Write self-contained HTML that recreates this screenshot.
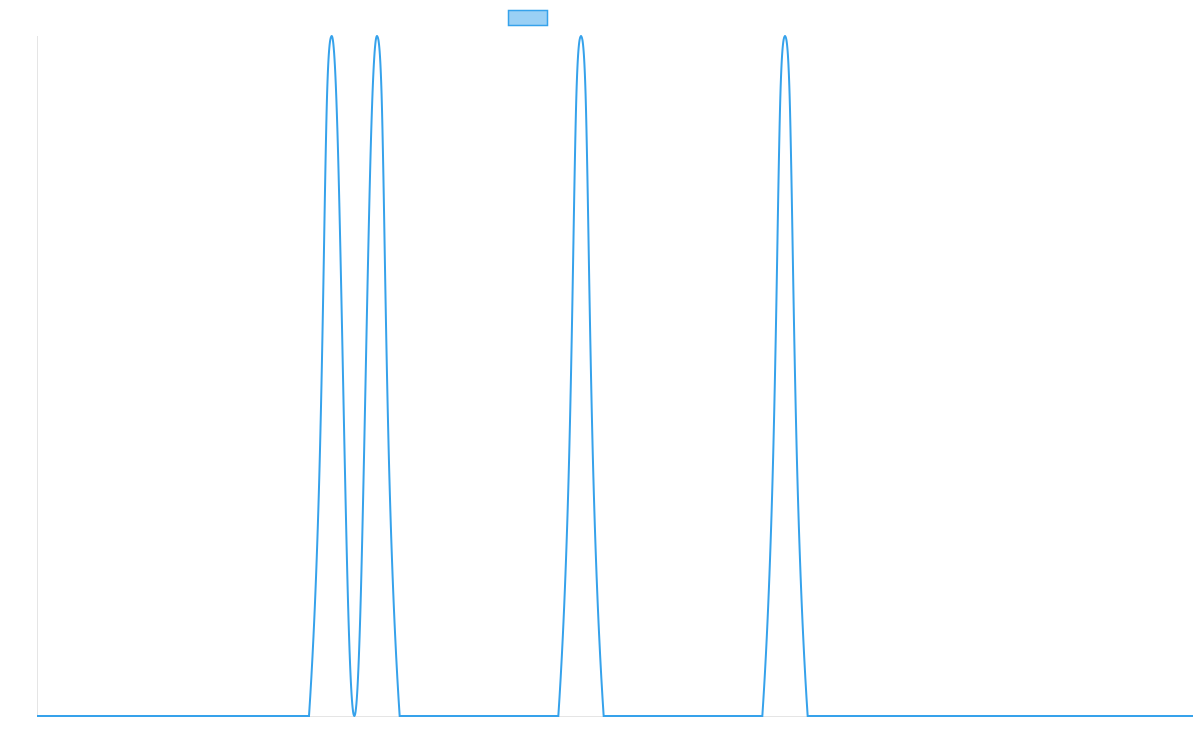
<!DOCTYPE html>
<html><head><style>html,body{margin:0;padding:0;background:#fff;}</style></head>
<body>
<svg width="1200" height="750" viewBox="0 0 1200 750" xmlns="http://www.w3.org/2000/svg">
<rect width="1200" height="750" fill="#fff"/>
<line x1="37.5" y1="36" x2="37.5" y2="716" stroke="#e5e5e5" stroke-width="1"/>
<line x1="37" y1="716.5" x2="1193" y2="716.5" stroke="#e5e5e5" stroke-width="1"/>
<rect x="508.5" y="10.5" width="39" height="15" fill="rgba(54,162,235,0.5)" stroke="#36a2eb" stroke-width="1.5"/>
<path fill="none" stroke="#36a2eb" stroke-width="2" d="
M37,716 L309,716
C326.55,452.8 322.6,36 331.67,36
C340.73,36 345.27,716 354.33,716
C363.4,716 367.93,36 377,36
C386.07,36 382.12,452.8 399.67,716
L558.33,716
C575.88,452.8 571.93,36 581,36
C590.07,36 586.12,452.8 603.67,716
L762.33,716
C779.88,452.8 775.93,36 785,36
C794.07,36 790.12,452.8 807.67,716
L1193,716"/>
</svg>
</body></html>
